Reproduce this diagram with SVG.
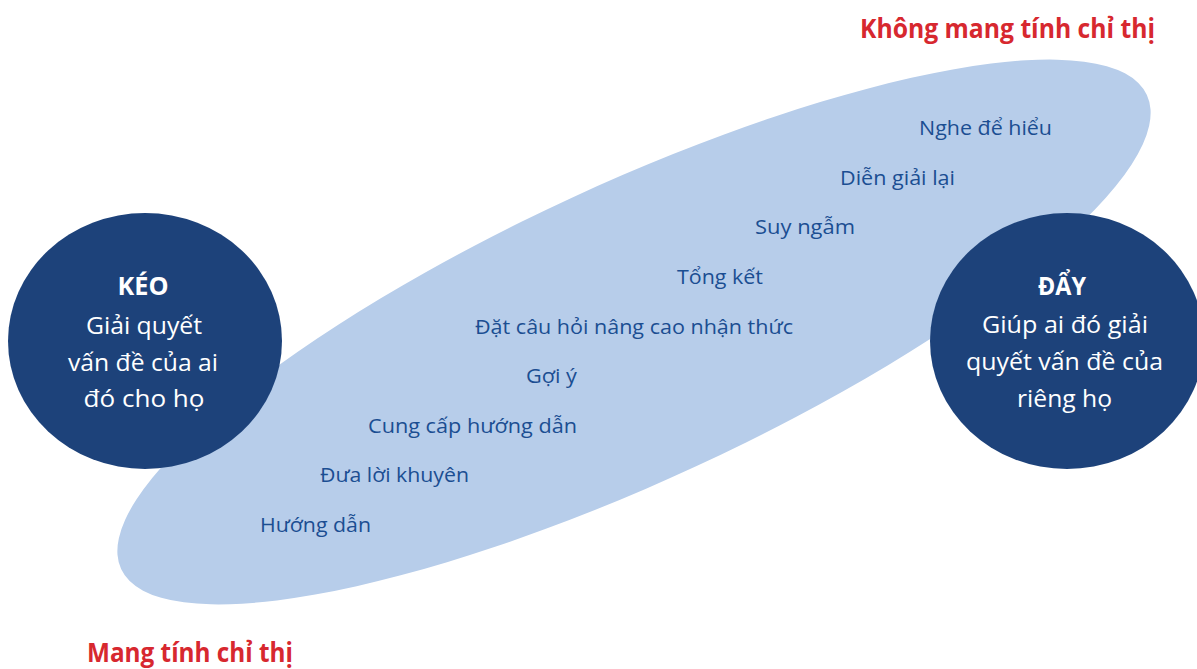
<svg xmlns="http://www.w3.org/2000/svg" width="1197" height="669" viewBox="0 0 1197 669">
<style>
.bg{fill:#ffffff}
.band{fill:#b7cdea}
.circ{fill:#1d427a}
.it{font-family:"Open Sans","Noto Sans",sans-serif;font-size:20px;fill:#1b4e92}
.ct{font-family:"Open Sans","Noto Sans",sans-serif;font-size:24px;fill:#ffffff;text-anchor:middle}
.ctb{font-family:"Open Sans","Noto Sans",sans-serif;font-size:25px;font-weight:bold;fill:#ffffff;text-anchor:middle}
.red{font-family:"Open Sans","Noto Sans",sans-serif;font-size:26px;font-weight:bold;fill:#d7282f}
</style>
<rect class="bg" x="0" y="0" width="1197" height="669"/>
<g id="band">
<ellipse class="band" cx="634" cy="332" rx="565" ry="148" transform="rotate(-24.8 634 332)"/>
</g>
<g id="items">
<text class="it" x="919" y="135" textLength="133" lengthAdjust="spacingAndGlyphs">Nghe để hiểu</text>
<text class="it" x="840" y="185" textLength="115" lengthAdjust="spacingAndGlyphs">Diễn giải lại</text>
<text class="it" x="755" y="234" textLength="100" lengthAdjust="spacingAndGlyphs">Suy ngẫm</text>
<text class="it" x="677" y="284" textLength="86" lengthAdjust="spacingAndGlyphs">Tổng kết</text>
<text class="it" x="475" y="334" textLength="318" lengthAdjust="spacingAndGlyphs">Đặt câu hỏi nâng cao nhận thức</text>
<text class="it" x="526" y="383" textLength="51" lengthAdjust="spacingAndGlyphs">Gợi ý</text>
<text class="it" x="368" y="433" textLength="209" lengthAdjust="spacingAndGlyphs">Cung cấp hướng dẫn</text>
<text class="it" x="320" y="482" textLength="149" lengthAdjust="spacingAndGlyphs">Đưa lời khuyên</text>
<text class="it" x="260" y="532" textLength="111" lengthAdjust="spacingAndGlyphs">Hướng dẫn</text>
</g>
<g id="keo">
<ellipse class="circ" cx="145" cy="341" rx="137" ry="128"/>
<text class="ctb" x="143" y="295" textLength="51" lengthAdjust="spacingAndGlyphs">KÉO</text>
<text class="ct" x="144" y="333.5" textLength="116" lengthAdjust="spacingAndGlyphs">Giải quyết</text>
<text class="ct" x="143" y="370.5" textLength="150" lengthAdjust="spacingAndGlyphs">vấn đề của ai</text>
<text class="ct" x="144" y="407" textLength="121" lengthAdjust="spacingAndGlyphs">đó cho họ</text>
</g>
<g id="day">
<ellipse class="circ" cx="1067" cy="341" rx="137" ry="128"/>
<text class="ctb" x="1062" y="295" textLength="48" lengthAdjust="spacingAndGlyphs">ĐẨY</text>
<text class="ct" x="1065" y="333" textLength="166" lengthAdjust="spacingAndGlyphs">Giúp ai đó giải</text>
<text class="ct" x="1064.5" y="370" textLength="197" lengthAdjust="spacingAndGlyphs">quyết vấn đề của</text>
<text class="ct" x="1064.5" y="407" textLength="95" lengthAdjust="spacingAndGlyphs">riêng họ</text>
</g>
<g id="labels">
<text class="red" x="860" y="38" textLength="295" lengthAdjust="spacingAndGlyphs">Không mang tính chỉ thị</text>
<text class="red" x="87" y="662" textLength="206" lengthAdjust="spacingAndGlyphs">Mang tính chỉ thị</text>
</g>
<g id="connectors"></g>
</svg>
